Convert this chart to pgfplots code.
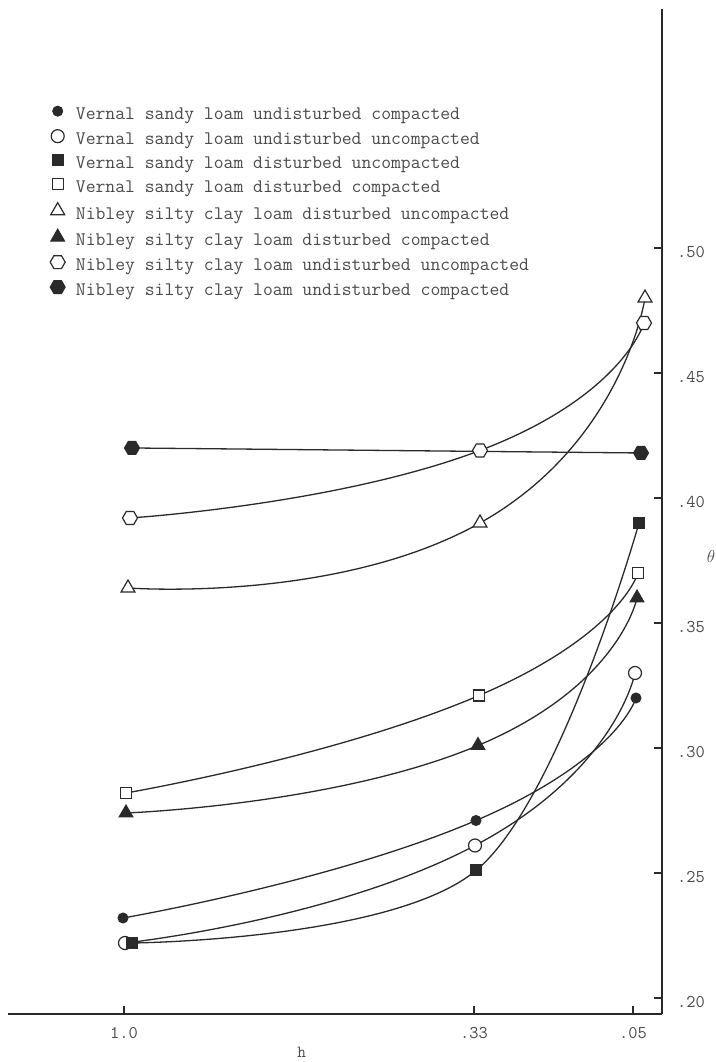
\documentclass[border=0pt]{standalone}
\usepackage{pgfplots}
\pgfplotsset{compat=1.18}

\definecolor{ink}{HTML}{2A2A2A}
\definecolor{typed}{HTML}{4A4A4A}

% six-sided mark, pointed left and right
\pgfdeclareplotmark{hexagon}{%
  \pgfpathmoveto{\pgfpointpolar{0}{\pgfplotmarksize}}%
  \pgfpathlineto{\pgfpointpolar{60}{\pgfplotmarksize}}%
  \pgfpathlineto{\pgfpointpolar{120}{\pgfplotmarksize}}%
  \pgfpathlineto{\pgfpointpolar{180}{\pgfplotmarksize}}%
  \pgfpathlineto{\pgfpointpolar{240}{\pgfplotmarksize}}%
  \pgfpathlineto{\pgfpointpolar{300}{\pgfplotmarksize}}%
  \pgfpathclose
  \pgfusepathqfillstroke}

\pgfplotsset{curve/.style={smooth, tension=1, ink, line width=1.3bp, forget plot}}

\begin{document}
\begin{tikzpicture}
\useasboundingbox (-8bp,-48bp) rectangle (708bp,1014bp);
\begin{axis}[
  at={(0,0)}, anchor=south west,
  scale only axis, width=654bp, height=1005bp,
  xmin=8, xmax=662, ymin=0.1936, ymax=0.5956,
  axis x line=bottom, axis y line=right,
  axis line style={-, line width=1.6bp, color=ink},
  tick align=inside, major tick length=8bp,
  tick style={line width=1.2bp, color=ink},
  xtick={124,474,633}, xticklabels={1.0,.33,.05},
  ytick={0.20,0.25,0.30,0.35,0.40,0.45,0.50},
  yticklabels={.20,.25,.30,.35,.40,.45,.50},
  tick label style={font=\ttfamily\fontsize{18}{21}\selectfont, text=typed},
  xticklabel style={inner sep=0pt, anchor=north, yshift=-13bp},
  yticklabel style={inner sep=0pt, anchor=west, xshift=15bp, yshift=-4bp},
  xlabel={h}, ylabel={$\theta$},
  label style={font=\ttfamily\fontsize{17}{20}\selectfont, text=typed},
  xlabel style={at={(rel axis cs:0.449,0)}, anchor=center, yshift=-38bp},
  ylabel style={at={(rel axis cs:1,0.455)}, anchor=center, rotate=-90, xshift=49bp},
  legend style={at={(axis cs:50,0.5568)}, anchor=north west, draw=none, fill=none,
    font=\ttfamily\fontsize{19.2}{21}\selectfont, text=typed, inner sep=0pt, row sep=7bp,
    nodes={inner sep=0pt, text height=12bp, text depth=3bp}},
  legend cell align=left,
  legend image code/.code={\draw[#1] plot coordinates {(7bp,4bp)};\path (0bp,4bp) (25bp,4bp);},
  clip=false,
]
% fitted curves
\addplot[curve] coordinates {(123,0.232) (476,0.271) (636,0.320)};
\addplot[curve] coordinates {(125,0.222) (475,0.261) (635,0.330)};
\addplot[curve, tension=0.6] coordinates {(132,0.222) (476,0.251) (639,0.390)};
\addplot[curve] coordinates {(126,0.282) (479,0.321) (638,0.370)};
\addplot[curve] coordinates {(128,0.364) (480,0.390) (645,0.480)};
\addplot[curve] coordinates {(126,0.274) (478,0.301) (637,0.360)};
\addplot[curve] coordinates {(130,0.392) (480,0.419) (644,0.470)};
\addplot[ink, line width=1.3bp, forget plot] coordinates {(132,0.420) (641,0.418)};

% measured points
\addplot[only marks, mark=*, mark size=5bp, ink, mark options={fill=ink, line width=1bp}]
  coordinates {(123,0.232) (476,0.271) (636,0.320)};
\addlegendentry{Vernal sandy loam undisturbed compacted}
\addplot[only marks, mark=*, mark size=6.5bp, ink, mark options={fill=white, line width=1.2bp}]
  coordinates {(125,0.222) (475,0.261) (635,0.330)};
\addlegendentry{Vernal sandy loam undisturbed uncompacted}
\addplot[only marks, mark=square*, mark size=5.5bp, ink, mark options={fill=ink, line width=1bp}]
  coordinates {(132,0.222) (476,0.251) (639,0.390)};
\addlegendentry{Vernal sandy loam disturbed uncompacted}
\addplot[only marks, mark=square*, mark size=5.5bp, ink, mark options={fill=white, line width=1.2bp}]
  coordinates {(126,0.282) (479,0.321) (638,0.370)};
\addlegendentry{Vernal sandy loam disturbed compacted}
\addplot[only marks, mark=triangle*, mark size=8bp, ink, mark options={fill=white, line width=1.2bp}]
  coordinates {(128,0.364) (480,0.390) (645,0.480)};
\addlegendentry{Nibley silty clay loam disturbed uncompacted}
\addplot[only marks, mark=triangle*, mark size=8bp, ink, mark options={fill=ink, line width=1bp}]
  coordinates {(126,0.274) (478,0.301) (637,0.360)};
\addlegendentry{Nibley silty clay loam disturbed compacted}
\addplot[only marks, mark=hexagon, mark size=7.5bp, ink, mark options={fill=white, line width=1.2bp}]
  coordinates {(130,0.392) (480,0.419) (644,0.470)};
\addlegendentry{Nibley silty clay loam undisturbed uncompacted}
\addplot[only marks, mark=hexagon, mark size=7.5bp, ink, mark options={fill=ink, line width=1bp}]
  coordinates {(132,0.420) (641,0.418)};
\addlegendentry{Nibley silty clay loam undisturbed compacted}
\end{axis}
\end{tikzpicture}
\end{document}
